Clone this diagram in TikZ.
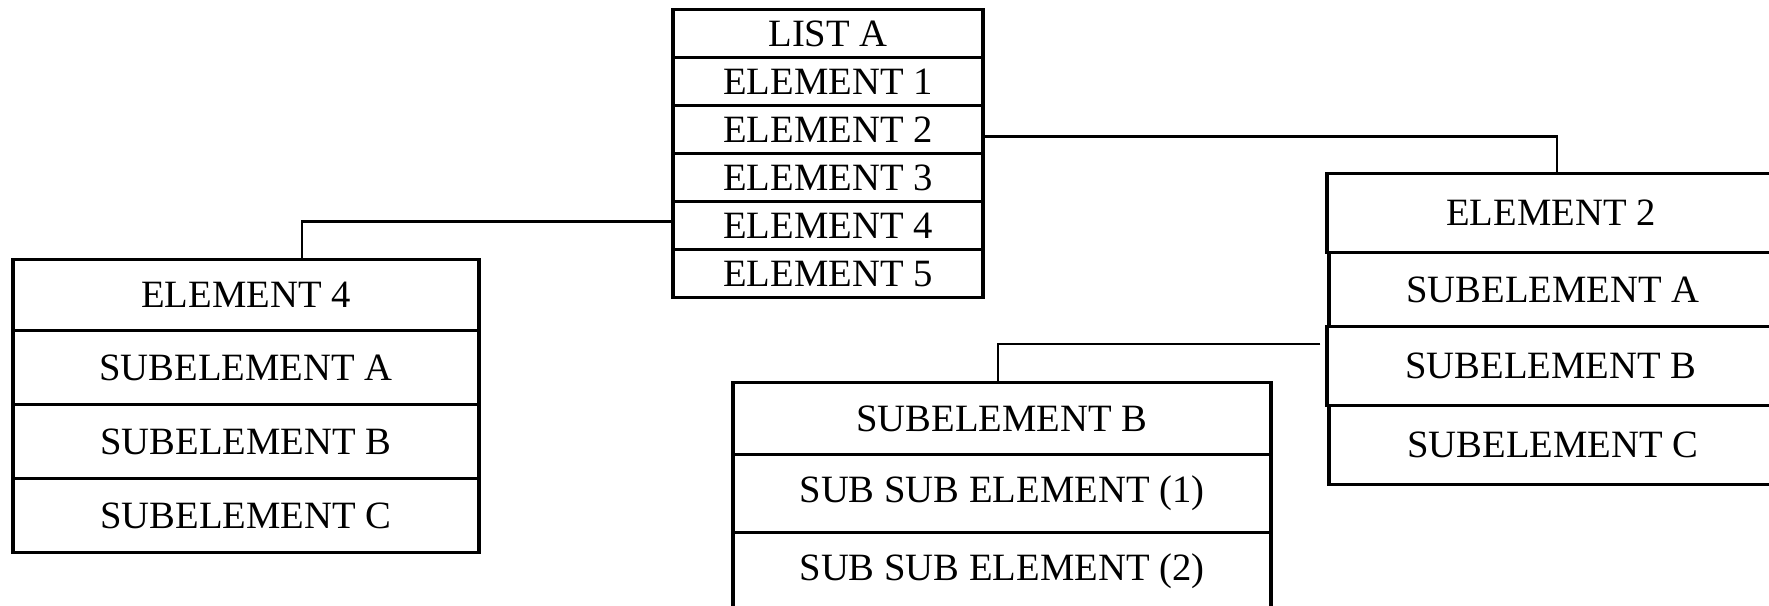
\documentclass[tikz,border=0pt]{standalone}
\usepackage{fontspec}
\setmainfont{Liberation Serif}
\begin{document}
\begin{tikzpicture}[
    cell/.style={draw, rectangle, fill=white, inner sep=0pt, line width=0.9pt,
      anchor=north, font=\fontsize{11}{13}\selectfont},
    link/.style={line width=0.7pt}
  ]
  \useasboundingbox (0,0) rectangle (17.69,6.05);
  \clip (0,0) rectangle (17.69,6.05);
  % list in the middle
  \begin{scope}[every node/.append style={cell, minimum width=3.10cm, minimum height=0.48cm}]
    \draw
      (8.28,5.97) node (la){LIST A}
      (8.28,5.49) node (la1){ELEMENT 1}
      (8.28,5.01) node (la2){ELEMENT 2}
      (8.28,4.53) node (la3){ELEMENT 3}
      (8.28,4.05) node (la4){ELEMENT 4}
      (8.28,3.57) node (la5){ELEMENT 5};
  \end{scope}
  % element 4 on the left
  \begin{scope}[every node/.append style={cell, minimum width=4.66cm, minimum height=0.74cm}]
    \draw
      (2.46,3.47) node[minimum height=0.71cm] (e4){ELEMENT 4}
      (2.46,2.76) node (e4a){SUBELEMENT A}
      (2.46,2.02) node (e4b){SUBELEMENT B}
      (2.46,1.28) node (e4c){SUBELEMENT C};
  \end{scope}
  % element 2 on the right
  \begin{scope}[every node/.append style={cell, minimum width=4.48cm, minimum height=0.79cm}]
    \draw
      (15.51,4.33) node (e2){ELEMENT 2}
      (15.53,3.54) node[minimum height=0.74cm] (e2a){SUBELEMENT A}
      (15.51,2.80) node (e2b){SUBELEMENT B}
      (15.53,2.01) node (e2c){SUBELEMENT C};
  \end{scope}
  % subelement b below
  \begin{scope}[every node/.append style={cell, minimum width=5.38cm, minimum height=0.78cm}]
    \draw
      (10.02,2.24) node[minimum height=0.72cm] (sb){SUBELEMENT B}
      (10.02,1.52) node (sb1){SUB SUB ELEMENT (1)}
      (10.02,0.74) node (sb2){SUB SUB ELEMENT (2)};
  \end{scope}
  \begin{scope}[link]
    \draw ([yshift=-0.7mm]la2.east) -| ([xshift=0.6mm]e2.north);
    \draw ([yshift=0.4mm]la4.west) -| ([xshift=5.6mm]e4.north);
    \draw ([xshift=-0.5mm,yshift=2.2mm]e2b.west) -| ([xshift=-0.4mm]sb.north);
  \end{scope}
\end{tikzpicture}
\end{document}
